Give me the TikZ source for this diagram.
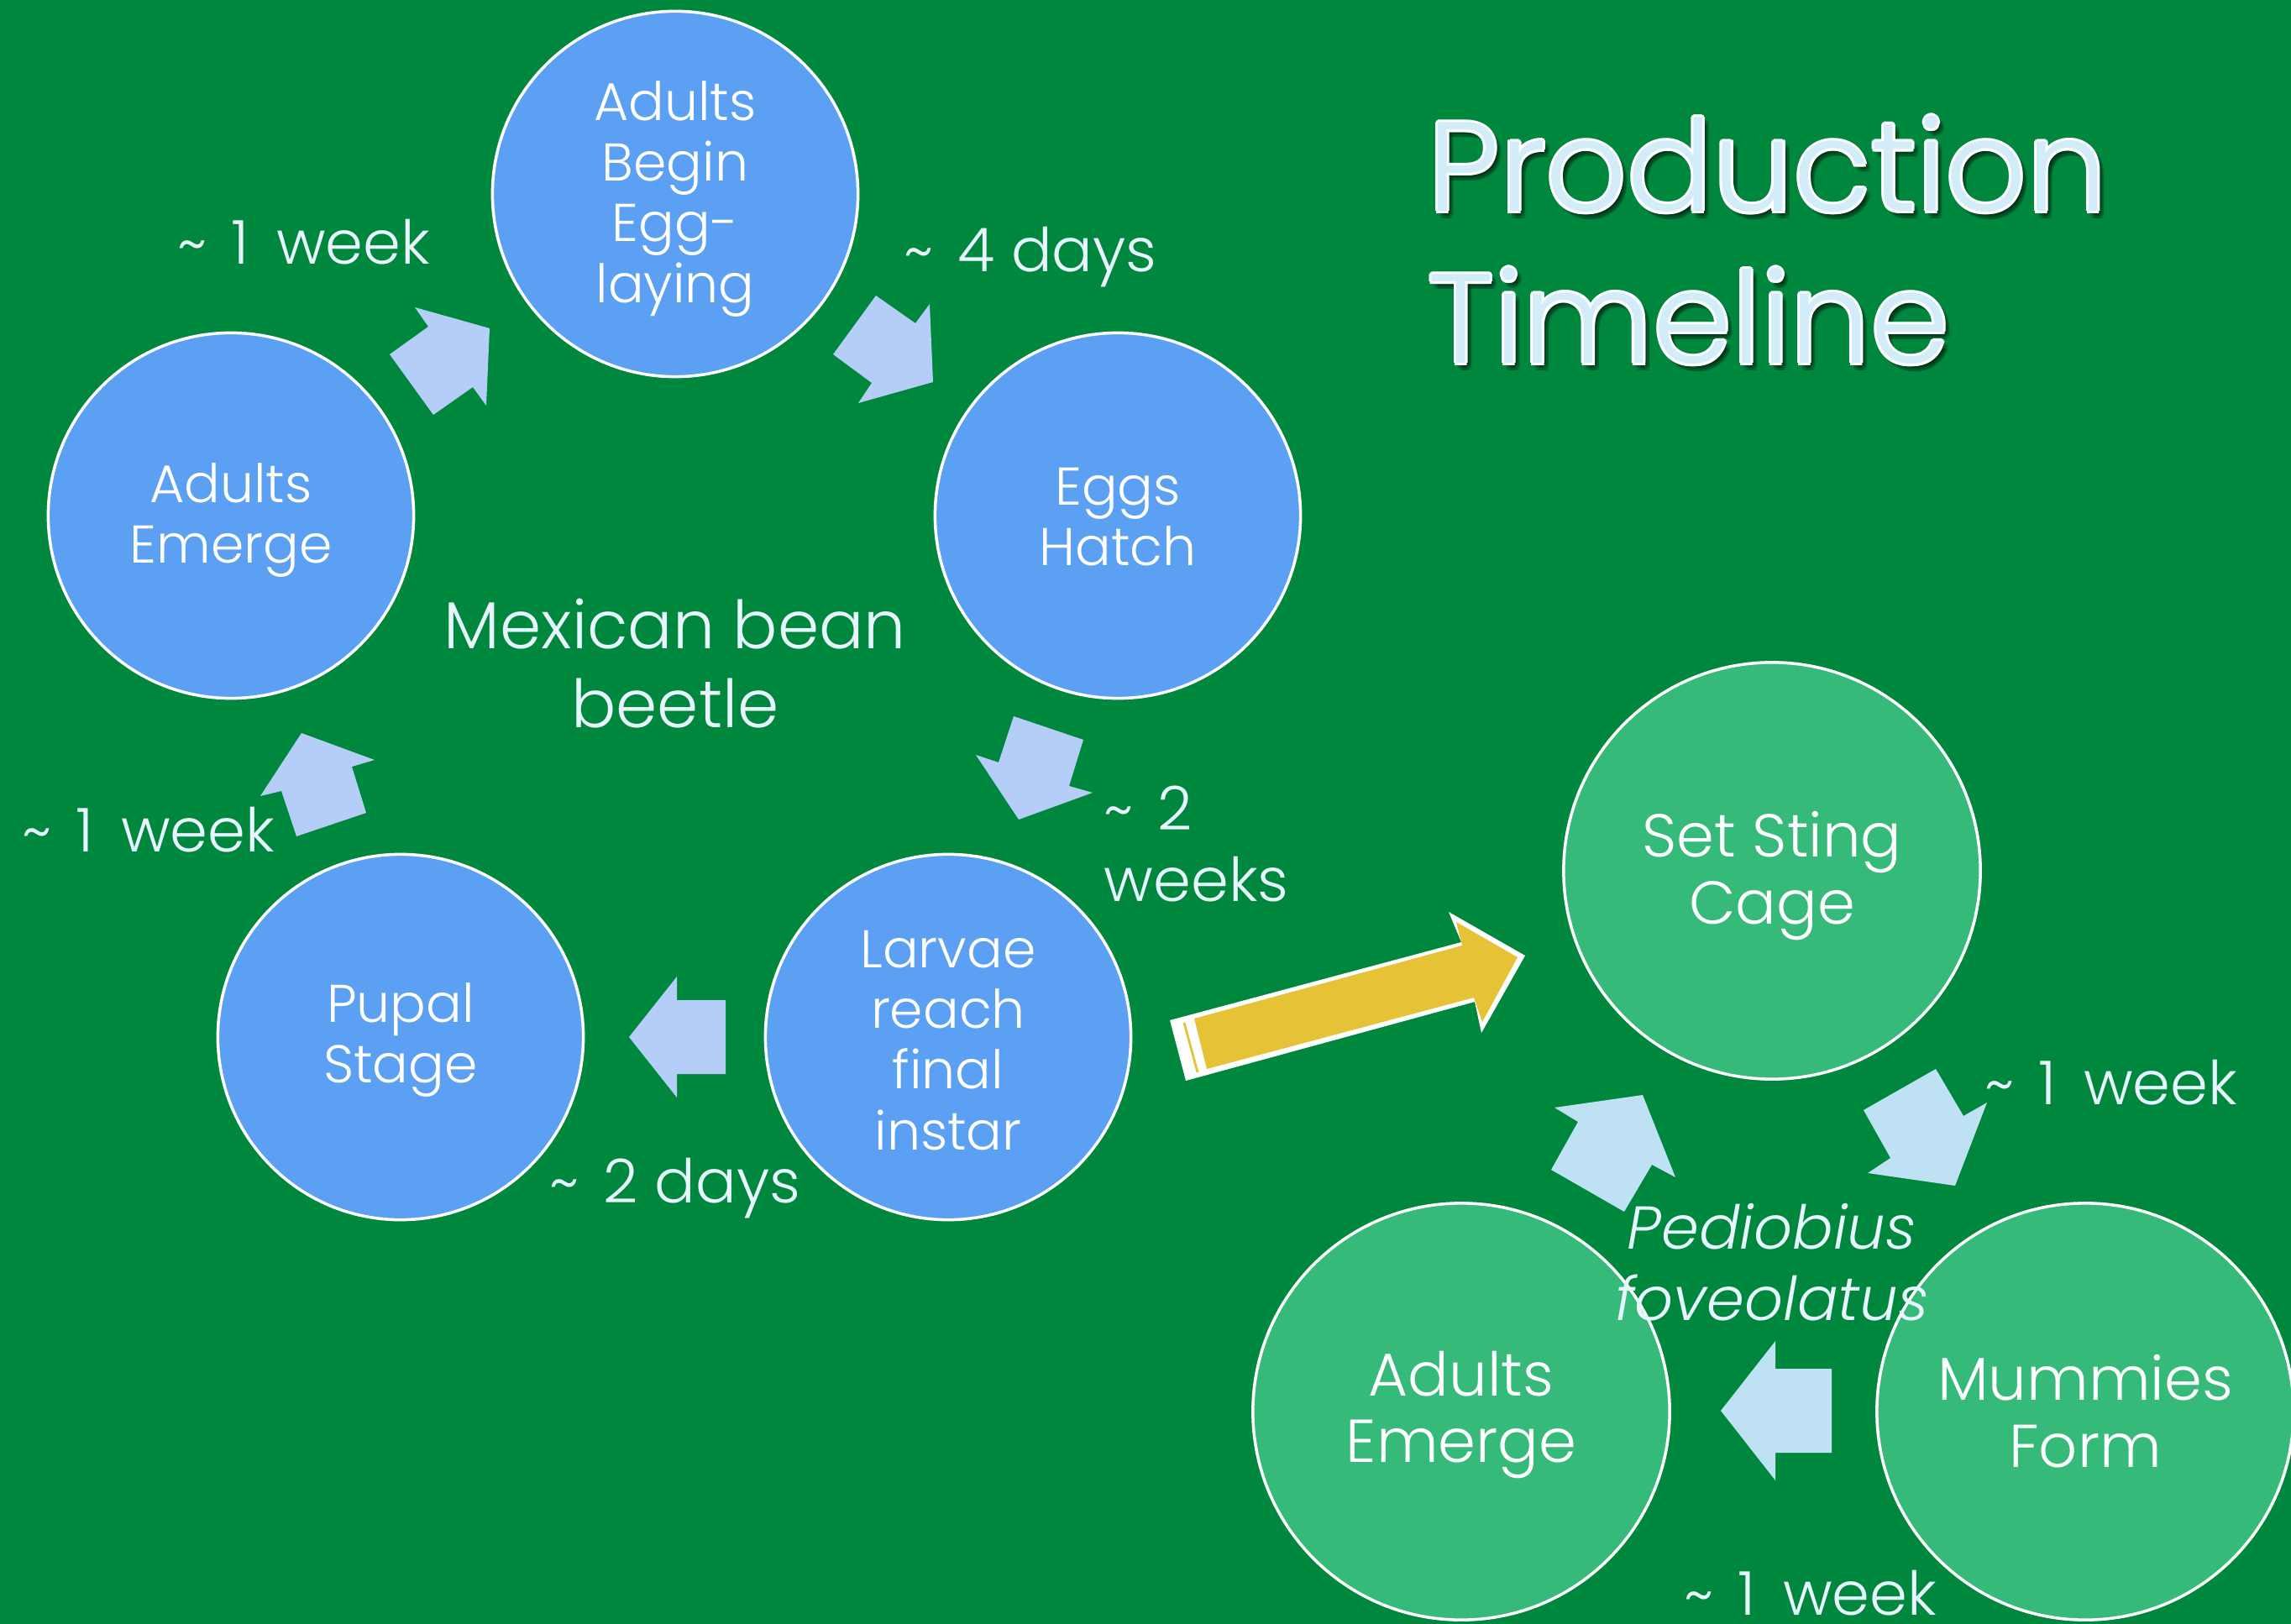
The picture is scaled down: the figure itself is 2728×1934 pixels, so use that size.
\documentclass[tikz,border=0pt]{standalone}
\usepackage{fontspec}
\setmainfont{Poppins}[UprightFont=* Light, ItalicFont=* Light Italic]
\usetikzlibrary{calc}
\definecolor{bggreen}{RGB}{0,135,62}
\definecolor{cblue}{RGB}{91,160,242}
\definecolor{cgreen}{RGB}{53,186,122}
\definecolor{arrblue}{RGB}{180,206,247}
\definecolor{arrlight}{RGB}{190,226,244}
\definecolor{cyellow}{RGB}{230,194,55}
\definecolor{ltext}{RGB}{230,246,252}
\definecolor{titlefill}{RGB}{210,237,248}
\newcommand\tld{\textasciitilde\hspace{0.4em}}
\newcommand\oneweek{\tld 1\hspace{0.45em}week}
\begin{document}
\begin{tikzpicture}[x=0.01cm,y=-0.01cm,
  bluecirc/.style={circle, draw=white, line width=1pt, fill=cblue, minimum size=4.35cm, inner sep=0pt},
  greencirc/.style={circle, draw=white, line width=1pt, fill=cgreen, minimum size=4.96cm, inner sep=0pt},
  bluetxt/.style={inner sep=0pt, text=white, align=center, font=\fontsize{18}{20.5}\selectfont},
  greentxt/.style={inner sep=0pt, text=white, align=center, font=\fontsize{20.5}{22.7}\selectfont},
  lbl/.style={text=ltext, inner sep=0pt, font=\fontsize{20.5}{24}\selectfont},
  midlbl/.style={text=ltext, inner sep=0pt, align=center, font=\fontsize{22.5}{26.6}\selectfont},
  ttl/.style={inner sep=0pt, anchor=base west, font=\fontsize{43}{51}\selectfont},
  barrow/.style={fill=arrblue},
  garrow/.style={fill=arrlight}]
\useasboundingbox (0,0) rectangle (2728,1934);
\fill[bggreen] (0,0) rectangle (2728,1934);

% title: soft shadow, white outline, light fill
\foreach \a in {0,45,...,315} {
  \node[ttl, text=black, opacity=0.12] (ps\a) at ($(1705,258)+(\a:3)$) {Production};
  \node[ttl, text=black, opacity=0.12] (ts\a) at ($(1705,439)+(\a:3)$) {Timeline};
}
\foreach \a in {0,45,...,315} {
  \node[ttl, text=white] (po\a) at ($(1700,252)+(\a:3)$) {Production};
  \node[ttl, text=white] (to\a) at ($(1700,433)+(\a:3)$) {Timeline};
}
\node[ttl, text=titlefill] (title1) at (1700,252) {Production};
\node[ttl, text=titlefill] (title2) at (1700,433) {Timeline};

% blue cycle
\node[bluecirc] (begin) at (804,231) {};
\node[bluecirc] (hatch) at (1331,614) {};
\node[bluecirc] (larvae) at (1129,1235) {};
\node[bluecirc] (pupal) at (477,1235) {};
\node[bluecirc] (emerge) at (275,614) {};
\node[bluetxt] (begint) at ($(begin.center)+(0,6)$) {Adults\\Begin\\Egg-\\laying};
\node[bluetxt] (hatcht) at ($(hatch.center)+(0,2)$) {Eggs\\Hatch};
\node[bluetxt] (larvaet) at ($(larvae.center)+(0,4)$) {Larvae\\reach\\final\\instar};
\node[bluetxt] (pupalt) at ($(pupal.center)+(0,4)$) {Pupal\\Stage};
\node[bluetxt] (emerget) at ($(emerge.center)+(0,6)$) {Adults\\Emerge};

\fill[barrow] (494,366) -- (510,389) -- (464,422) -- (516,494) -- (563,461) -- (579,483) -- (583,391) -- cycle;
\fill[barrow] (1043,352) -- (1090,385) -- (1107,362) -- (1111,455) -- (1022,480) -- (1038,456) -- (992,422) -- cycle;
\fill[barrow] (1207,853) -- (1290,881) -- (1273,936) -- (1301,944) -- (1213,976) -- (1162,899) -- (1189,908) -- cycle;
\fill[barrow] (806,1163) -- (806,1191) -- (864,1191) -- (864,1279) -- (806,1279) -- (806,1307) -- (749,1235) -- cycle;
\fill[barrow] (359,873) -- (446,905) -- (419,913) -- (436,968) -- (353,996) -- (335,942) -- (310,948) -- cycle;

\node[lbl, anchor=base] (l1) at (362,315) {\oneweek};
\node[lbl, anchor=base] (l2) at (1227,324) {\tld 4 days};
\node[lbl, anchor=base west, align=left] (l3) at (1314,1073) {\tld 2\\weeks};
\node[lbl, anchor=base] (l4) at (804,1432) {\tld 2 days};
\node[lbl, anchor=base west] (l5) at (26,1014) {\oneweek};
\node[midlbl, anchor=base] (mbb) at (804,866) {Mexican bean\\beetle};

% yellow arrow
\fill[white] (1393,1215) -- (1740,1122) -- (1725,1086) -- (1816,1138) -- (1764,1230) -- (1756,1193) -- (1412,1287) -- cycle;
\fill[cyellow] (1422,1213) -- (1741,1126) -- (1734,1098) -- (1807,1140) -- (1765,1217) -- (1755,1188) -- (1437,1273) -- cycle;
\draw[cyellow, line width=0.8pt] (1410,1218) -- (1426,1277);

% green cycle
\node[greencirc] (cage) at (2110,1037) {};
\node[greencirc] (mummies) at (2483,1681) {};
\node[greencirc] (gemerge) at (1740,1681) {};
\node[greentxt] (caget) at ($(cage.center)+(0,6)$) {Set Sting\\Cage};
\node[greentxt] (mummiest) at ($(mummies.center)+(0,0)$) {Mummies\\Form};
\node[greentxt] (gemerget) at ($(gemerge.center)+(0,4)$) {Adults\\Emerge};

\fill[garrow] (2305,1273) -- (2338,1329) -- (2366,1313) -- (2328,1412) -- (2224,1397) -- (2251,1379) -- (2219,1322) -- cycle;
\fill[garrow] (2114,1597) -- (2114,1630) -- (2181,1630) -- (2181,1730) -- (2114,1730) -- (2114,1763) -- (2049,1680) -- cycle;
\fill[garrow] (1851,1319) -- (1956,1304) -- (1995,1402) -- (1967,1387) -- (1934,1443) -- (1847,1393) -- (1879,1336) -- cycle;

\node[lbl, anchor=base] (l6) at (2514,1315) {\oneweek};
\node[lbl, anchor=base] (l7) at (2156,1923) {\oneweek};
\node[lbl, anchor=base, align=center, font=\fontsize{20.5}{24}\selectfont\itshape] (pf) at (2110,1572) {Pediobius\\foveolatus};
\end{tikzpicture}
\end{document}
